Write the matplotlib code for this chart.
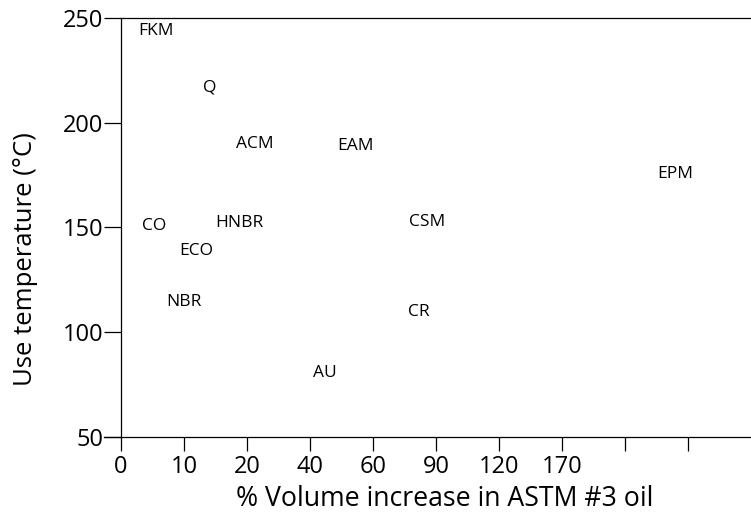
import matplotlib.pyplot as plt

plt.rcParams['font.family'] = ['Open Sans', 'DejaVu Sans']

# elastomer families: position along the swell axis (in tick slots) and use temperature
names = ['FKM', 'Q', 'ACM', 'EAM', 'EPM', 'CO', 'HNBR', 'ECO', 'CSM', 'NBR', 'CR', 'AU']
swell_pos = [0.55, 1.41, 2.12, 3.73, 8.80, 0.52, 1.88, 1.19, 4.86, 1.00, 4.72, 3.24]
use_temp = [244, 217, 190, 189, 175.5, 150.5, 152, 139, 152.5, 114.5, 109.5, 80.5]

x_ticklabels = ['0', '10', '20', '40', '60', '90', '120', '170', '', '']
y_ticks = [50, 100, 150, 200, 250]

fig = plt.figure(figsize=(7.51, 5.13), dpi=100)
ax = fig.add_axes([104 / 751, (513 - 437) / 513, (751 - 104) / 751, (437 - 18) / 513])

# spine placement first: moving a spine resets the tick settings
ax.spines['right'].set_visible(False)
ax.spines['left'].set_position(('data', 0))
ax.spines['top'].set_bounds(0, 10)
for s in ['left', 'top', 'bottom']:
    ax.spines[s].set_linewidth(0.9)

for n, x, y in zip(names, swell_pos, use_temp):
    ax.text(x, y, n, ha='center', va='center', fontsize=12.5)

ax.set_xlim(-0.27, 10)
ax.set_ylim(50, 250)
ax.set_xticks(range(len(x_ticklabels)))
ax.set_xticklabels(x_ticklabels)
ax.set_yticks(y_ticks)
ax.set_yticklabels([str(v) for v in y_ticks])
ax.tick_params(axis='x', direction='out', length=10, width=0.9, pad=3, labelsize=17)
ax.tick_params(axis='y', direction='out', length=12, width=0.9, pad=0.5, labelsize=17)

ax.set_xlabel('% Volume increase in ASTM #3 oil', fontsize=19.2, labelpad=4)
ax.set_ylabel('Use temperature (°C)', fontsize=18.5, labelpad=18)
ax.xaxis.label.set_x(0.527)
ax.yaxis.label.set_y(0.425)

fig.savefig('out.png', dpi=100)
